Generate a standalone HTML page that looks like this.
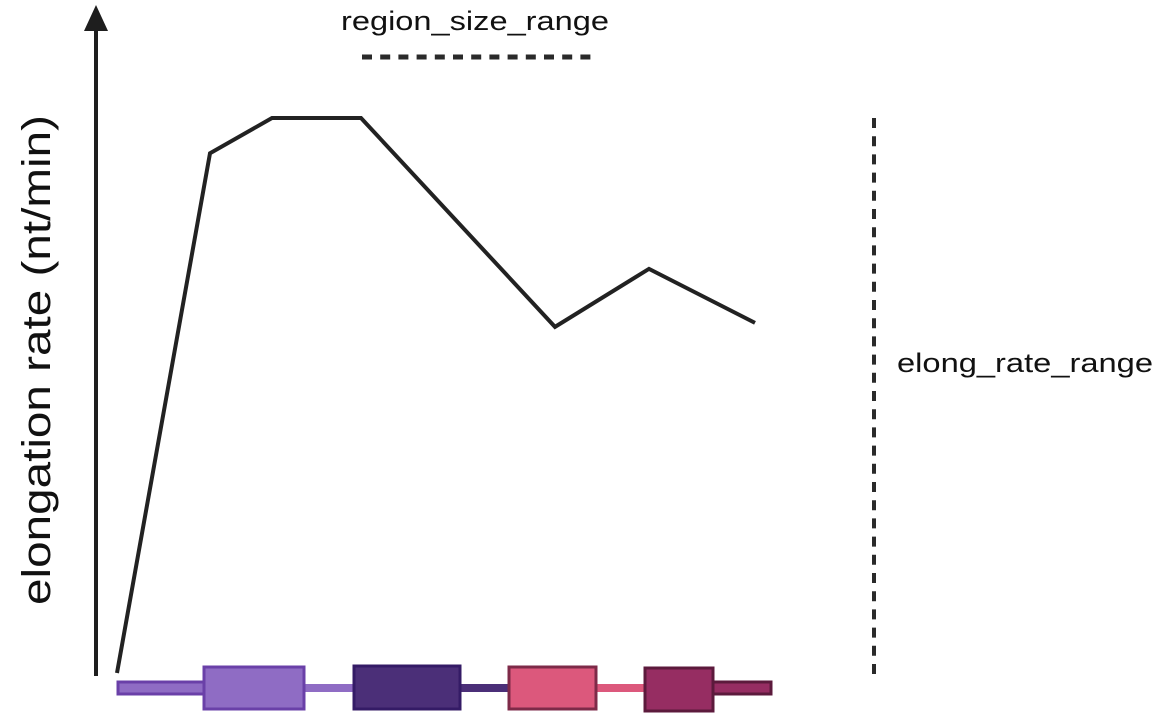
<!DOCTYPE html>
<html><head><meta charset="utf-8"><style>
html,body{margin:0;padding:0;background:#fff;}
svg{display:block;font-family:"Liberation Sans",sans-serif;}
</style></head><body>
<svg id="chart" width="1155" height="715" viewBox="0 0 1155 715" xmlns="http://www.w3.org/2000/svg">
  <g>
    <line x1="96" y1="676" x2="96" y2="28" stroke="#1e1e1e" stroke-width="4"/>
    <polygon points="96,5 84,31 108,31" fill="#1e1e1e"/>
  </g>
  <text transform="translate(50,360) rotate(-90)" text-anchor="middle" font-size="40" fill="#111" textLength="490" lengthAdjust="spacingAndGlyphs">elongation rate (nt/min)</text>
  <text x="475" y="30" text-anchor="middle" font-size="27" fill="#111" textLength="268" lengthAdjust="spacingAndGlyphs">region_size_range</text>
  <line x1="362" y1="57" x2="592" y2="57" stroke="#2a2a2a" stroke-width="5" stroke-dasharray="10,8.2"/>
  <line x1="874" y1="118" x2="874" y2="677" stroke="#2a2a2a" stroke-width="4" stroke-dasharray="10,8.2"/>
  <text x="897" y="372" font-size="27" fill="#111" textLength="256" lengthAdjust="spacingAndGlyphs">elong_rate_range</text>
  <g id="gene"></g>
  <polyline id="rate-line" fill="none" stroke="#222" stroke-width="4" stroke-linejoin="miter"/>
</svg>
<script>
// positions along gene (pixel-like units) and elongation rates
var positions = [117, 210, 272, 361, 555, 649, 755];
var rates = [0, 103, 110, 110, 68.6, 80.1, 69.4];
// axis functions
var xDomain = [0, 1155], xRange = [0, 1155];
var yDomain = [0, 110], yRange = [673, 118];
function xScale(v){ return xRange[0] + (v - xDomain[0]) / (xDomain[1] - xDomain[0]) * (xRange[1] - xRange[0]); }
function yScale(v){ return yRange[0] + (v - yDomain[0]) / (yDomain[1] - yDomain[0]) * (yRange[1] - yRange[0]); }
var pts = positions.map(function(p,i){ return xScale(p) + ',' + yScale(rates[i]); }).join(' ');
document.getElementById('rate-line').setAttribute('points', pts);

var NS = 'http://www.w3.org/2000/svg';
var g = document.getElementById('gene');
function rect(x,y,w,h,fill,stroke,name){
  var r = document.createElementNS(NS,'rect');
  r.setAttribute('x',x); r.setAttribute('y',y); r.setAttribute('width',w); r.setAttribute('height',h);
  r.setAttribute('fill',fill); if(stroke){ r.setAttribute('stroke',stroke); r.setAttribute('stroke-width',3); }
  
  
  g.appendChild(r);
}
// introns
rect(305,684,50,8,'#8f6cc4',null,'intron-1');
rect(461,684,48,8,'#4b2f78',null,'intron-2');
rect(597,684,48,8,'#dc587c',null,'intron-3');
// UTRs
rect(118,682,88,12,'#8f6cc4','#6a40a8','utr-5prime');
rect(712,682,59,12,'#962d62','#5c1a3c','utr-3prime');
// exons
rect(204,667,100,42,'#8f6cc4','#6a40a8','exon-1');
rect(354,666,106,43,'#4b2f78','#341b66','exon-2');
rect(509,667,87,42,'#dc587c','#7e2a48','exon-3');
rect(645,668,68,43,'#962d62','#5c1a3c','exon-4');
</script>
</body></html>
